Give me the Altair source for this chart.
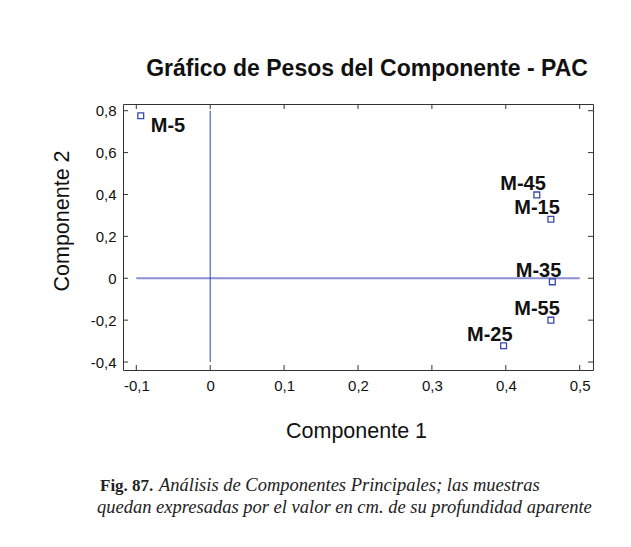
import altair as alt
import pandas as pd

# ---- data ----
SAMPLES = ["M-5", "M-45", "M-15", "M-35", "M-55", "M-25"]
COMP1 = [-0.094, 0.442, 0.461, 0.463, 0.461, 0.397]
COMP2 = [0.776, 0.398, 0.282, -0.017, -0.200, -0.322]

X_TICKS = [-0.1, 0.0, 0.1, 0.2, 0.3, 0.4, 0.5]
Y_TICKS = [-0.4, -0.2, 0.0, 0.2, 0.4, 0.6, 0.8]
X_DOMAIN = [-0.118, 0.518]
Y_DOMAIN = [-0.438, 0.832]

TITLE = "Gráfico de Pesos del Componente - PAC"
X_TITLE = "Componente 1"
Y_TITLE = "Componente 2"
CAP_BOLD = "Fig. 87."
CAP_LINE1 = "Análisis de Componentes Principales; las muestras"
CAP_LINE2 = "quedan expresadas por el valor en cm. de su profundidad aparente"

W, H = 470, 266
SANS = "Liberation Sans"
SERIF = "Liberation Serif"
FRAME = "#333333"
MARK_BLUE = "#3a48ae"

pts = pd.DataFrame({"label": SAMPLES, "c1": COMP1, "c2": COMP2})
xt = pd.DataFrame({"xv": X_TICKS})
yt = pd.DataFrame({"yv": Y_TICKS})
vline = pd.DataFrame({"xv": [0.0], "ylo": [Y_TICKS[0]], "yhi": [Y_TICKS[-1]]})
hline = pd.DataFrame({"yv": [0.0], "xlo": [X_TICKS[0]], "xhi": [X_TICKS[-1]]})
one = pd.DataFrame({"t": [TITLE]})

lab_expr = ("datum.value == 0 ? '0' : "
            "replace(replace(format(datum.value, '.1f'), '.', ','), '\u2212', '-')")

xscale = alt.Scale(domain=X_DOMAIN, nice=False, zero=False)
yscale = alt.Scale(domain=Y_DOMAIN, nice=False, zero=False)

AX_COMMON = dict(
    labelExpr=lab_expr, ticks=False, tickSize=0, domain=False, grid=False,
    labelFont=SANS, labelFontSize=15, labelColor="#111111",
    titleFont=SANS, titleFontSize=21.5, titleFontWeight="normal", titleColor="#111111",
    titleBaseline="alphabetic", titleAlign="center", titleAnchor="middle",
)
xaxis = alt.Axis(values=X_TICKS, labelPadding=8, title=X_TITLE,
                 titleX=W / 2 - 2, titleY=67, **AX_COMMON)
yaxis = alt.Axis(values=Y_TICKS, labelPadding=7, title=Y_TITLE,
                 titleX=-55, titleY=116.5, titleAngle=270, **AX_COMMON)

def X(field):
    return alt.X(field, type="quantitative", scale=xscale, axis=xaxis)

def Y(field):
    return alt.Y(field, type="quantitative", scale=yscale, axis=yaxis)

base_pts = alt.Chart(pts)

points = base_pts.mark_point(shape="square", filled=False, size=34,
                             stroke=MARK_BLUE, strokeWidth=1.3, opacity=1).encode(
    x=X("c1"), y=Y("c2"))

labels_right = base_pts.transform_filter(alt.datum.label != "M-5").mark_text(
    align="right", baseline="alphabetic", dx=9, dy=-5,
    font=SANS, fontSize=20, fontWeight="bold", color="#111111").encode(
    x=X("c1"), y=Y("c2"), text="label:N")

labels_left = base_pts.transform_filter(alt.datum.label == "M-5").mark_text(
    align="left", baseline="alphabetic", dx=10, dy=16,
    font=SANS, fontSize=20, fontWeight="bold", color="#111111").encode(
    x=X("c1"), y=Y("c2"), text="label:N")

vrule = alt.Chart(vline).mark_rule(color="#3344aa", strokeWidth=1).encode(
    x=X("xv"), y=Y("ylo"), y2="yhi")
hrule = alt.Chart(hline).mark_rule(color="#8a8fd2", strokeWidth=2).encode(
    y=Y("yv"), x=X("xlo"), x2="xhi")

tick_style = dict(color=FRAME, strokeWidth=1)
tb = alt.Chart(xt).mark_rule(**tick_style).encode(x=X("xv"), y=alt.value(H), y2=alt.value(H - 5))
tt = alt.Chart(xt).mark_rule(**tick_style).encode(x=X("xv"), y=alt.value(0), y2=alt.value(5))
tl = alt.Chart(yt).mark_rule(**tick_style).encode(y=Y("yv"), x=alt.value(0), x2=alt.value(5))
tr = alt.Chart(yt).mark_rule(**tick_style).encode(y=Y("yv"), x=alt.value(W), x2=alt.value(W - 5))

title = alt.Chart(one).mark_text(align="center", baseline="alphabetic", font=SANS,
                                 fontSize=23, fontWeight="bold", color="#111111").encode(
    x=alt.value(244), y=alt.value(-28), text="t:N")

CAP_SIZE = 18.5
cap_b = alt.Chart(pd.DataFrame({"t": [CAP_BOLD]})).mark_text(
    align="left", baseline="alphabetic", font=SERIF, fontSize=17, fontWeight="bold",
    color="#222222").encode(x=alt.value(-23), y=alt.value(387), text="t:N")
cap_1 = alt.Chart(pd.DataFrame({"t": [CAP_LINE1]})).mark_text(
    align="left", baseline="alphabetic", font=SERIF, fontSize=CAP_SIZE, fontStyle="italic",
    color="#222222").encode(x=alt.value(36), y=alt.value(387), text="t:N")
cap_2 = alt.Chart(pd.DataFrame({"t": [CAP_LINE2]})).mark_text(
    align="left", baseline="alphabetic", font=SERIF, fontSize=CAP_SIZE, fontStyle="italic",
    color="#222222").encode(x=alt.value(-26), y=alt.value(408.7), text="t:N")

chart = alt.layer(
    hrule, vrule, tb, tt, tl, tr, points, labels_right, labels_left, title, cap_b, cap_1, cap_2
).properties(
    width=W, height=H,
    background="white",
    autosize=alt.AutoSizeParams(type="none"),
    padding={"left": 115, "top": 96, "right": 30, "bottom": 160},
).configure_view(
    stroke=FRAME, strokeWidth=1
)

chart.save("out.html", embed_options={"renderer": "svg", "actions": False})
